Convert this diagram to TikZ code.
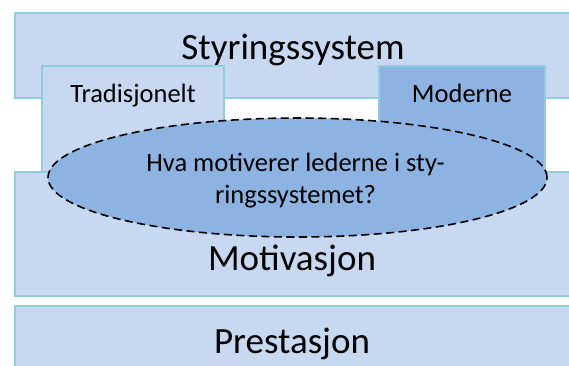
\documentclass[tikz,border=0pt]{standalone}
\usepackage{fontspec}
\setmainfont{Carlito}
\usetikzlibrary{shapes.geometric}
\definecolor{boxfill}{HTML}{C6D9F1}
\definecolor{boxline}{HTML}{93CDDD}
\definecolor{darkfill}{HTML}{8DB3E2}
\tikzset{
  lightbox/.style={draw=boxline, fill=boxfill, line width=2pt},
  darkbox/.style={draw=boxline, fill=darkfill, line width=2pt},
  bigtext/.style={font=\fontsize{37}{42}\selectfont, anchor=base, inner sep=0pt},
  smalltext/.style={font=\fontsize{26.5}{30}\selectfont, anchor=base, inner sep=0pt},
  midtext/.style={font=\fontsize{26.5}{30}\selectfont, anchor=base, inner sep=0pt},
  question/.style={ellipse, draw=black, fill=darkfill, line width=1.6pt, dash pattern=on 8pt off 4.5pt, minimum width=499pt, minimum height=119pt, inner sep=0pt}
}
\begin{document}
\begin{tikzpicture}[x=1pt,y=-1pt]
\useasboundingbox (0,0) rectangle (569,365);
\clip (0,0) rectangle (569,365);
\fill[white] (0,0) rectangle (569,365);
% Styringssystem
\path[lightbox] (15,13) rectangle (600,98);
\node[bigtext] (styr) at (293,59) {Styringssystem};
% sub boxes
\path[lightbox] (42,66) rectangle (224,185);
\node[smalltext] (trad) at (133,102) {Tradisjonelt};
\path[darkbox] (379,66) rectangle (545,185);
\node[smalltext] (mod) at (462,102) {Moderne};
% Motivasjon
\path[lightbox] (15,172) rectangle (600,296);
\node[bigtext] (mot) at (292,270) {Motivasjon};
% Prestasjon
\path[lightbox] (15,306) rectangle (600,400);
\node[bigtext] (pre) at (292,353) {Prestasjon};
% question ellipse
\node[question] (q) at (297.5,177.5) {};
\node[midtext] (q1) at (295.5,171) {Hva motiverer lederne i sty-};
\node[midtext] (q2) at (295.5,203) {ringssystemet?};
\end{tikzpicture}
\end{document}
